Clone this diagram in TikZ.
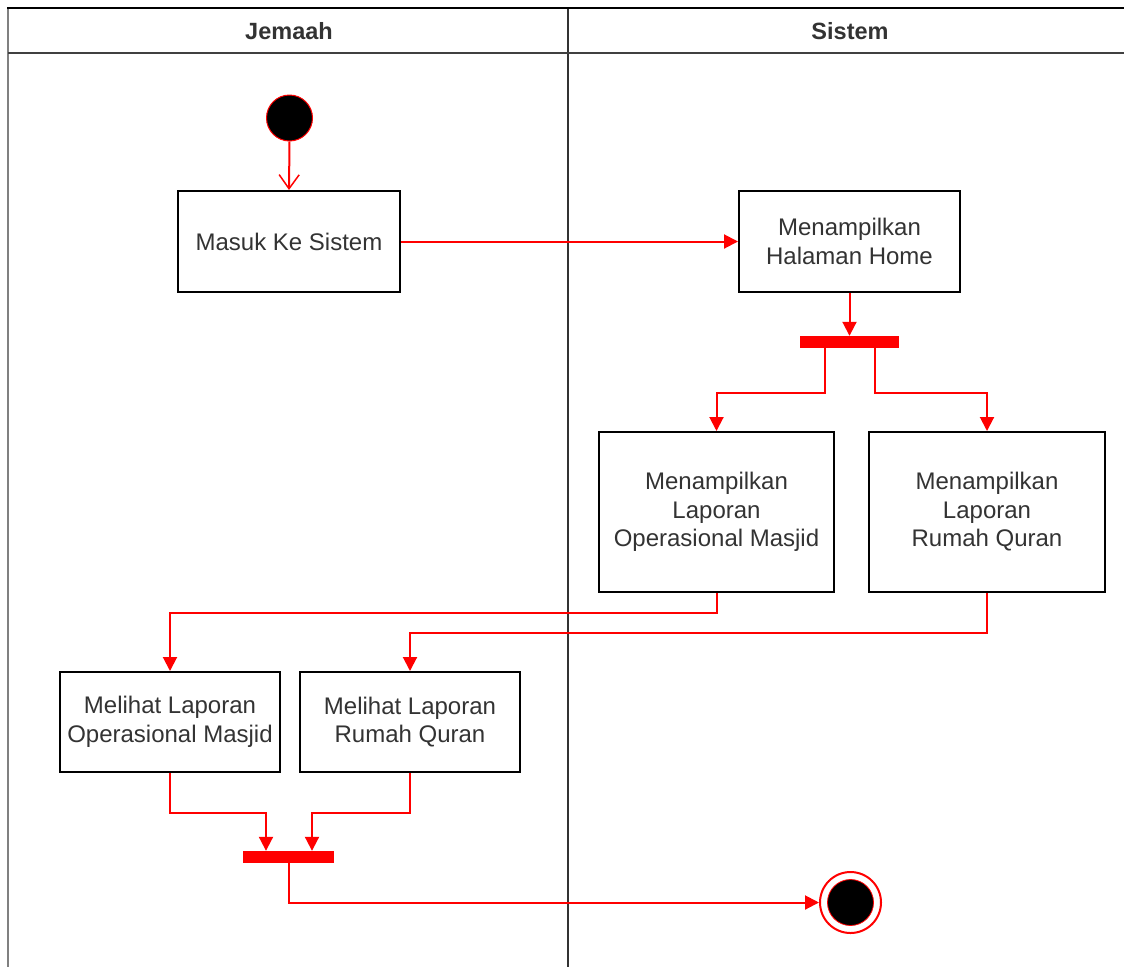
\documentclass[tikz,border=0pt]{standalone}
\usepackage{fontspec}
\setmainfont{Liberation Sans}
\usetikzlibrary{arrows.meta}
\definecolor{txt}{HTML}{333333}
\definecolor{lanegray}{HTML}{808080}
\begin{document}
\begin{tikzpicture}[x=1pt,y=-1pt,
  box/.style={draw=black, line width=2pt, fill=white, align=center, text=txt,
    font=\fontsize{24}{28.5}\selectfont, inner sep=0pt},
  lanehead/.style={text=txt, font=\bfseries\fontsize{23.5}{28}\selectfont, inner sep=0pt},
  flow/.style={draw=red, line width=2pt, -{Triangle[length=14pt,width=14pt]}},
  openflow/.style={draw=red, line width=2pt, -{Straight Barb[length=14pt,width=20pt,line width=1.5pt]}},
  bar/.style={fill=red, draw=none, minimum height=12pt, inner sep=0pt},
]
\useasboundingbox (0,0) rectangle (1124,967);
% swimlanes
\draw[lanegray, line width=2.5pt] (8,8) -- (8,967);
\draw[black!80, line width=2.5pt] (568,8) -- (568,967);
\draw[black!75, line width=2pt] (8,53) -- (1124,53);
\draw[black, line width=2.5pt] (7,8) -- (1124,8);
\node[lanehead] (lane1) at (289,31) {Jemaah};
\node[lanehead] (lane2) at (850,31) {Sistem};
% nodes
\node[circle, fill=black, draw=red, line width=1pt, minimum size=46pt, inner sep=0pt] (start) at (289.5,118) {};
\node[box, minimum width=222pt, minimum height=101pt] (masuk) at (289,241.5) {Masuk Ke Sistem};
\node[box, minimum width=221pt, minimum height=101pt] (home) at (849.5,241.5) {Menampilkan\\Halaman Home};
\node[bar, minimum width=99pt] (fork) at (849.5,342) {};
\node[box, minimum width=235pt, minimum height=160pt] (opsS) at (716.5,512) {Menampilkan\\Laporan\\Operasional Masjid};
\node[box, minimum width=236pt, minimum height=160pt] (rqS) at (987,512) {Menampilkan\\Laporan\\Rumah Quran};
\node[box, minimum width=220pt, minimum height=100pt] (melOps) at (170,722) {Melihat Laporan\\Operasional Masjid};
\node[box, minimum width=220pt, minimum height=100pt] (melRq) at (410,722) {Melihat Laporan\\Rumah Quran};
\node[bar, minimum width=91pt] (join) at (288.5,857) {};
\node[circle, draw=red, line width=2pt, fill=white, minimum size=61pt, inner sep=0pt] (end) at (850.5,902.5) {};
\node[circle, fill=black, draw=red, line width=0.8pt, minimum size=46pt, inner sep=0pt] (endin) at (end.center) {};
% connectors
\draw[openflow] (start.south) -- (masuk.north);
\draw[flow] (masuk.east) -- (home.west);
\draw[flow] (home.south) -- (fork.north);
\draw[flow] ([xshift=-24.5pt]fork.south) -- ++(0,45) -| (opsS.north);
\draw[flow] ([xshift=25.5pt]fork.south) -- ++(0,45) -| (rqS.north);
\draw[flow] (opsS.south) -- ++(0,20) -| (melOps.north);
\draw[flow] (rqS.south) -- ++(0,40) -| (melRq.north);
\draw[flow] (melOps.south) -- ++(0,40) -| ([xshift=-22.5pt]join.north);
\draw[flow] (melRq.south) -- ++(0,40) -| ([xshift=23.5pt]join.north);
\draw[flow] (join.south) |- (end.west);
\end{tikzpicture}
\end{document}
